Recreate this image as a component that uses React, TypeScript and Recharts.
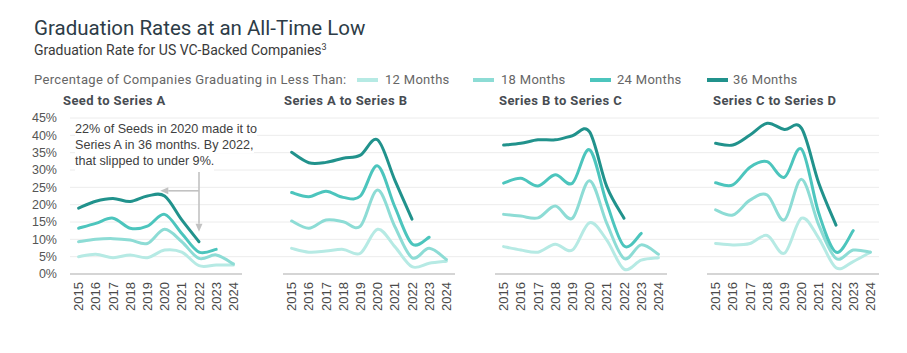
import React from 'react';
import { LineChart, Line, XAxis, YAxis, CartesianGrid, ReferenceLine } from 'recharts';

const years = [2015, 2016, 2017, 2018, 2019, 2020, 2021, 2022, 2023, 2024];
const yTicks = [0, 5, 10, 15, 20, 25, 30, 35, 40, 45];
const gridValues = [5, 10, 15, 20, 25, 30, 35, 40, 45];

const seriesKeys = ['m12', 'm18', 'm24', 'm36'];
const seriesNames = ['12 Months', '18 Months', '24 Months', '36 Months'];
const seriesColors = ['#b6eae4', '#8ddcd5', '#4cc5bd', '#21928c'];

const panelTitles = ['Seed to Series A', 'Series A to Series B', 'Series B to Series C', 'Series C to Series D'];

// Seed to Series A
const seedA12 = [5.0, 5.7, 4.7, 5.5, 4.7, 6.9, 6.3, 2.4, 2.6, 2.6];
const seedA18 = [9.3, 10.0, 10.2, 9.8, 8.8, 12.9, 9.3, 4.5, 5.5, 2.9];
const seedA24 = [13.2, 14.6, 16.1, 13.2, 13.8, 17.2, 11.7, 6.3, 7.1, null];
const seedA36 = [19.0, 21.0, 21.8, 20.9, 22.5, 22.5, 15.6, 9.3, null, null];

// Series A to Series B
const aB12 = [7.4, 6.3, 6.6, 7.1, 6.0, 12.9, 7.9, 2.1, 3.1, 3.7];
const aB18 = [15.3, 13.2, 15.6, 15.1, 13.8, 24.2, 13.7, 4.7, 7.4, 4.2];
const aB24 = [23.5, 22.3, 23.9, 22.1, 22.5, 31.2, 19.4, 8.7, 10.6, null];
const aB36 = [35.1, 32.1, 32.2, 33.4, 34.3, 38.7, 27.1, 15.8, null, null];

// Series B to Series C
const bC12 = [7.9, 6.9, 6.3, 8.6, 6.9, 14.8, 9.8, 1.4, 4.0, 4.7];
const bC18 = [17.2, 16.7, 16.2, 19.6, 16.1, 26.9, 14.6, 4.5, 8.4, 5.7];
const bC24 = [26.2, 27.6, 25.4, 28.6, 26.2, 35.8, 20.4, 8.1, 11.7, null];
const bC36 = [37.2, 37.7, 38.7, 38.7, 39.9, 41.0, 25.2, 16.1, null, null];

// Series C to Series D
const cD12 = [8.8, 8.4, 8.8, 11.1, 6.0, 16.1, 10.3, 1.8, 3.6, 6.3];
const cD18 = [18.5, 17.0, 21.3, 22.8, 15.6, 27.3, 14.1, 4.5, 6.9, 6.3];
const cD24 = [26.3, 25.7, 30.8, 32.4, 27.9, 36.0, 17.5, 6.3, 12.5, null];
const cD36 = [37.7, 37.2, 40.1, 43.5, 41.7, 42.0, 26.2, 14.1, null, null];

const annotationLines = [
  '22% of Seeds in 2020 made it to',
  'Series A in 36 months. By 2022,',
  'that slipped to under 9%.',
];
// annotation arrows in data units: [x1, y1, x2, y2]
const arrowVertical = [2022, 30, 2022, 12.2];
const arrowHorizontal = [2022, 24, 2019.75, 24];

function buildRows(a: (number | null)[], b: (number | null)[], c: (number | null)[], d: (number | null)[]) {
  return years.map((year, i) => ({ year, m12: a[i], m18: b[i], m24: c[i], m36: d[i] }));
}

const panelRows = [
  buildRows(seedA12, seedA18, seedA24, seedA36),
  buildRows(aB12, aB18, aB24, aB36),
  buildRows(bC12, bC18, bC24, bC36),
  buildRows(cD12, cD18, cD24, cD36),
];

const BAND = 17.2;
const panelLayout = [
  { left: 30, width: 253, yWidth: 40, titleLeft: 63 },
  { left: 283, width: 212, yWidth: 0, titleLeft: 284 },
  { left: 495, width: 212, yWidth: 0, titleLeft: 499 },
  { left: 707, width: 172, yWidth: 0, titleLeft: 713 },
];

const tickFont = '"Liberation Sans", Arial, sans-serif';
const uiFont = 'Roboto, "Noto Sans", sans-serif';

// Catmull-Rom style smoothing (similar to spreadsheet "smoothed line")
function smoothCurve(context: any) {
  let pts: [number, number][] = [];
  return {
    areaStart() {},
    areaEnd() {},
    lineStart() {
      pts = [];
    },
    point(x: number, y: number) {
      pts.push([+x, +y]);
    },
    lineEnd() {
      const n = pts.length;
      if (n === 0) return;
      context.moveTo(pts[0][0], pts[0][1]);
      if (n === 1) return;
      for (let i = 0; i < n - 1; i++) {
        const p0 = pts[Math.max(0, i - 1)];
        const p1 = pts[i];
        const p2 = pts[i + 1];
        const p3 = pts[Math.min(n - 1, i + 2)];
        const c1x = p1[0] + (p2[0] - p0[0]) / 6;
        const c1y = p1[1] + (p2[1] - p0[1]) / 6;
        const c2x = p2[0] - (p3[0] - p1[0]) / 6;
        const c2y = p2[1] - (p3[1] - p1[1]) / 6;
        context.bezierCurveTo(c1x, c1y, c2x, c2y, p2[0], p2[1]);
      }
    },
  };
}

const YearTick = (props: any) => {
  const { x, y, payload } = props;
  return (
    <text
      x={x}
      y={y}
      transform={`rotate(-90, ${x}, ${y})`}
      textAnchor="end"
      dominantBaseline="central"
      fontSize={13}
      fill="#4a4a4a"
      fontFamily={tickFont}
    >
      {payload.value}
    </text>
  );
};

const ArrowShape = (p: any) => {
  const { x1, y1, x2, y2 } = p;
  const dx = x2 - x1;
  const dy = y2 - y1;
  const len = Math.hypot(dx, dy) || 1;
  const ux = dx / len;
  const uy = dy / len;
  const hl = 8;
  const hw = 3.5;
  const bx = x2 - ux * hl;
  const by = y2 - uy * hl;
  const pts = `${x2},${y2} ${bx - uy * hw},${by + ux * hw} ${bx + uy * hw},${by - ux * hw}`;
  return (
    <g>
      <line x1={x1} y1={y1} x2={bx} y2={by} stroke="#c2c2c2" strokeWidth={1.6} />
      <polygon points={pts} fill="#c2c2c2" />
    </g>
  );
};

function Panel({ idx }: { idx: number }) {
  const lay = panelLayout[idx];
  const plotWidth = lay.width - lay.yWidth;
  const xMax = 2014.5 + plotWidth / BAND;
  const showY = lay.yWidth > 0;
  return (
    <div style={{ position: 'absolute', left: lay.left, top: 110 }}>
      <LineChart width={lay.width} height={209} data={panelRows[idx]} margin={{ top: 8, right: 0, bottom: 0, left: 0 }}>
        <CartesianGrid horizontal vertical={false} horizontalValues={gridValues} stroke="#ececec" strokeWidth={1} />
        <XAxis
          type="number"
          dataKey="year"
          domain={[2014.5, xMax]}
          ticks={years}
          interval={0}
          allowDataOverflow
          axisLine={false}
          tickLine={false}
          tickSize={0}
          tickMargin={8}
          height={45}
          tick={YearTick}
        />
        <YAxis
          type="number"
          domain={[0, 45]}
          ticks={yTicks}
          interval={0}
          hide={!showY}
          width={lay.yWidth}
          axisLine={false}
          tickLine={false}
          tickSize={0}
          tickMargin={13}
          tickFormatter={(v: number) => `${v}%`}
          tick={{ fontSize: 12.5, fill: '#555', fontFamily: tickFont }}
        />
        <ReferenceLine
          segment={[{ x: 2014.5, y: 0 }, { x: 2024.5, y: 0 }]}
          stroke="#d5d5d5"
          strokeWidth={2}
          ifOverflow="visible"
        />
        {seriesKeys.map((k, i) => (
          <Line
            key={k}
            type={smoothCurve as any}
            dataKey={k}
            name={seriesNames[i]}
            stroke={seriesColors[i]}
            strokeWidth={3}
            strokeLinecap="round"
            strokeLinejoin="round"
            dot={false}
            activeDot={false}
            connectNulls={false}
            isAnimationActive={false}
          />
        ))}
        {idx === 0 && (
          <ReferenceLine
            segment={[{ x: arrowVertical[0], y: arrowVertical[1] }, { x: arrowVertical[2], y: arrowVertical[3] }]}
            shape={ArrowShape}
            ifOverflow="visible"
          />
        )}
        {idx === 0 && (
          <ReferenceLine
            segment={[{ x: arrowHorizontal[0], y: arrowHorizontal[1] }, { x: arrowHorizontal[2], y: arrowHorizontal[3] }]}
            shape={ArrowShape}
            ifOverflow="visible"
          />
        )}
      </LineChart>
    </div>
  );
}

const legendLayout = [
  { swatch: 357, text: 385 },
  { swatch: 473, text: 501 },
  { swatch: 590, text: 617 },
  { swatch: 707, text: 733 },
];

export default function App() {
  return (
    <div
      style={{
        position: 'absolute',
        left: 0,
        top: 0,
        width: 907,
        height: 353,
        background: '#fff',
        overflow: 'hidden',
      }}
    >
      <div
        style={{
          position: 'absolute',
          left: 34,
          top: 16,
          fontFamily: uiFont,
          fontSize: 20.5,
          lineHeight: '24px',
          color: '#2d3c47',
          whiteSpace: 'nowrap',
        }}
      >
        Graduation Rates at an All-Time Low
      </div>
      <div
        style={{
          position: 'absolute',
          left: 34,
          top: 41,
          fontFamily: uiFont,
          fontSize: 14,
          lineHeight: '18px',
          color: '#3a3a3a',
          whiteSpace: 'nowrap',
        }}
      >
        Graduation Rate for US VC-Backed Companies
        <span style={{ fontSize: 9, position: 'relative', top: -5 }}>3</span>
      </div>
      <div
        style={{
          position: 'absolute',
          left: 34,
          top: 72,
          fontFamily: uiFont,
          fontSize: 13,
          lineHeight: '16px',
          letterSpacing: 0.35,
          color: '#666',
          whiteSpace: 'nowrap',
        }}
      >
        Percentage of Companies Graduating in Less Than:
      </div>
      {seriesNames.map((n, i) => (
        <React.Fragment key={n}>
          <div
            style={{
              position: 'absolute',
              left: legendLayout[i].swatch,
              top: 78,
              width: 21,
              height: 4,
              background: seriesColors[i],
            }}
          />
          <div
            style={{
              position: 'absolute',
              left: legendLayout[i].text,
              top: 72,
              fontFamily: uiFont,
              fontSize: 13,
              lineHeight: '16px',
              letterSpacing: 0.3,
              color: '#666',
              whiteSpace: 'nowrap',
            }}
          >
            {n}
          </div>
        </React.Fragment>
      ))}
      {panelTitles.map((t, i) => (
        <div
          key={t}
          style={{
            position: 'absolute',
            left: panelLayout[i].titleLeft,
            top: 93,
            fontFamily: uiFont,
            fontWeight: 700,
            fontSize: 13,
            lineHeight: '16px',
            letterSpacing: 0.4,
            color: '#474c52',
            whiteSpace: 'nowrap',
          }}
        >
          {t}
        </div>
      ))}
      {[0, 1, 2, 3].map((i) => (
        <Panel key={i} idx={i} />
      ))}
      <div
        style={{
          position: 'absolute',
          left: 75,
          top: 121,
          fontFamily: tickFont,
          fontSize: 12.6,
          lineHeight: '16px',
          color: '#404040',
        }}
      >
        {annotationLines.map((l, i) => (
          <div
            key={i}
            style={{
              width: 'fit-content',
              background: '#fff',
              whiteSpace: 'nowrap',
              paddingBottom: i === annotationLines.length - 1 ? 3 : 0,
            }}
          >
            {l}
          </div>
        ))}
      </div>
    </div>
  );
}
